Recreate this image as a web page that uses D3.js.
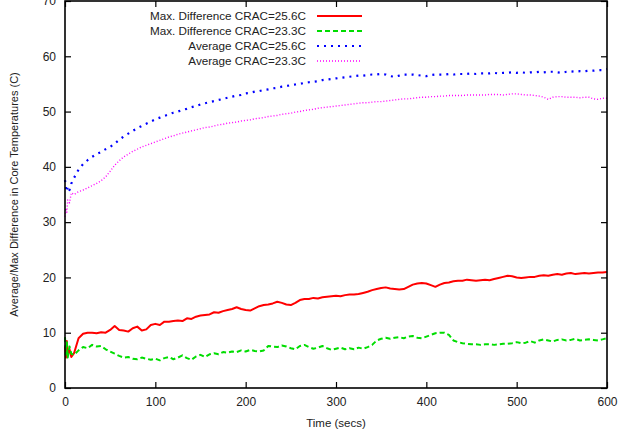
<!DOCTYPE html>
<html>
<head>
<meta charset="utf-8">
<script src="https://cdn.jsdelivr.net/npm/d3@7/dist/d3.min.js"></script>
<style>
  body { margin: 0; background: #fff; }
  svg text { font-family: "Liberation Sans", Arial, sans-serif; fill: #222; }
</style>
</head>
<body>
<div id="chart"></div>
<script>
// sample times (secs)
var times = [0, 1, 2, 3, 5, 7, 10, 15, 20, 25, 30, 35, 40, 45, 50, 55, 60, 65, 70, 75, 80, 85, 90, 95,
  100, 105, 110, 115, 120, 125, 130, 135, 140, 145, 150, 155, 160, 165, 170, 175, 180, 185, 190, 195,
  200, 205, 210, 215, 220, 225, 230, 235, 240, 245, 250, 255, 260, 265, 270, 275, 280, 285, 290, 295,
  300, 305, 310, 315, 320, 325, 330, 335, 340, 345, 350, 355, 360, 365, 370, 375, 380, 385, 390, 395,
  400, 405, 410, 415, 420, 425, 430, 435, 440, 445, 450, 455, 460, 465, 470, 475, 480, 485, 490, 495,
  500, 505, 510, 515, 520, 525, 530, 535, 540, 545, 550, 555, 560, 565, 570, 575, 580, 585, 590, 595, 600];

var maxDiff256 = [7.5, 5.5, 8.5, 6.0, 7.0, 5.6, 6.3, 9.0, 9.8, 10.0, 10.0, 9.9, 10.1, 10.0, 10.5, 11.2, 10.5, 10.4, 10.2, 10.8, 11.1, 10.4, 10.6, 11.4,
  11.6, 11.4, 12.0, 12.0, 12.1, 12.2, 12.1, 12.6, 12.5, 12.9, 13.1, 13.2, 13.3, 13.7, 13.6, 13.9, 14.1, 14.3, 14.6, 14.3,
  14.1, 14.0, 14.4, 14.8, 15.0, 15.1, 15.3, 15.6, 15.4, 15.1, 15.0, 15.4, 15.9, 16.1, 16.1, 16.3, 16.2, 16.4, 16.5, 16.6,
  16.7, 16.6, 16.8, 16.9, 16.9, 17.0, 17.2, 17.4, 17.7, 17.9, 18.1, 18.2, 18.0, 17.9, 17.8, 17.9, 18.3, 18.7, 18.9, 19.0,
  18.9, 18.6, 18.3, 18.7, 19.0, 19.1, 19.3, 19.4, 19.4, 19.6, 19.5, 19.4, 19.5, 19.6, 19.5, 19.7, 19.9, 20.1, 20.3, 20.2,
  20.0, 19.9, 20.0, 20.1, 20.1, 20.3, 20.4, 20.3, 20.5, 20.6, 20.5, 20.7, 20.8, 20.6, 20.7, 20.8, 20.7, 20.8, 20.9, 20.9, 21.0];

var maxDiff233 = [9.2, 6.0, 8.5, 5.5, 7.5, 6.2, 6.0, 6.8, 7.4, 7.2, 7.8, 7.5, 7.6, 7.0, 6.6, 6.2, 5.8, 5.5, 5.6, 5.3, 5.2, 5.5, 5.3, 5.1,
  5.3, 5.0, 5.4, 5.6, 5.2, 5.5, 5.9, 5.4, 5.1, 5.7, 6.0, 5.6, 6.1, 6.3, 6.1, 6.5, 6.4, 6.6, 6.5, 6.8,
  6.6, 6.9, 6.7, 6.6, 6.8, 7.6, 7.5, 7.4, 7.7, 7.5, 7.2, 7.0, 7.6, 7.8, 7.4, 7.1, 7.3, 7.6, 7.2, 6.9,
  7.1, 7.3, 7.0, 7.2, 7.0, 7.3, 7.1, 7.4, 7.8, 8.6, 8.9, 9.1, 8.9, 9.1, 9.2, 9.0, 9.3, 9.4, 9.1, 9.0,
  9.3, 9.6, 9.9, 10.0, 10.0, 9.6, 8.6, 8.3, 8.1, 8.0, 7.9, 7.9, 7.8, 7.9, 7.9, 7.8, 7.9, 8.0, 8.0, 8.1,
  8.3, 8.1, 8.2, 8.5, 8.2, 8.6, 8.8, 8.6, 8.4, 8.7, 8.8, 8.6, 8.7, 8.9, 8.6, 8.7, 8.8, 8.7, 8.6, 8.8, 9.0];

var avg256 = [37.6, 36.2, 35.5, 36.5, 35.8, 37.0, 38.0, 39.5, 40.5, 41.2, 41.8, 42.3, 42.7, 43.2, 43.6, 44.2, 44.9, 45.5, 46.0, 46.5, 47.0, 47.4, 47.8, 48.2,
  48.6, 48.9, 49.2, 49.5, 49.8, 50.0, 50.3, 50.5, 50.8, 51.0, 51.3, 51.5, 51.7, 51.9, 52.1, 52.3, 52.5, 52.7, 52.9, 53.0,
  53.3, 53.4, 53.6, 53.7, 53.9, 54.0, 54.2, 54.3, 54.5, 54.6, 54.8, 54.9, 55.0, 55.2, 55.3, 55.4, 55.5, 55.7, 55.8, 55.9,
  56.0, 56.1, 56.2, 56.3, 56.4, 56.5, 56.5, 56.6, 56.7, 56.7, 56.8, 56.7, 56.4, 56.3, 56.5, 56.7, 56.7, 56.7, 56.6, 56.5,
  56.4, 56.6, 56.7, 56.7, 56.7, 56.8, 56.7, 56.8, 56.8, 56.8, 56.9, 56.8, 56.9, 56.9, 56.9, 57.0, 56.9, 57.0, 57.0, 57.1,
  57.0, 57.1, 57.0, 57.1, 57.1, 57.2, 57.1, 57.2, 57.2, 57.1, 57.0, 57.2, 57.3, 57.2, 57.3, 57.3, 57.4, 57.4, 57.5, 57.5, 57.7];

var avg233 = [31.0, 32.5, 31.8, 34.0, 33.5, 35.3, 35.0, 35.5, 35.8, 36.2, 36.6, 37.0, 37.5, 38.2, 39.2, 40.3, 41.1, 41.8, 42.3, 42.8, 43.2, 43.6, 43.9, 44.2,
  44.5, 44.8, 45.1, 45.4, 45.6, 45.9, 46.1, 46.3, 46.5, 46.7, 46.9, 47.1, 47.2, 47.4, 47.6, 47.7, 47.9, 48.0, 48.1, 48.3,
  48.4, 48.5, 48.7, 48.8, 48.9, 49.1, 49.2, 49.3, 49.5, 49.6, 49.7, 49.9, 50.0, 50.2, 50.3, 50.4, 50.6, 50.7, 50.8, 50.9,
  51.0, 51.1, 51.2, 51.3, 51.4, 51.5, 51.6, 51.6, 51.7, 51.8, 51.8, 51.9, 52.0, 52.1, 52.2, 52.3, 52.3, 52.4, 52.5, 52.6,
  52.6, 52.7, 52.7, 52.8, 52.8, 52.9, 52.9, 52.9, 52.9, 53.0, 53.0, 53.0, 53.0, 53.0, 53.1, 53.1, 53.1, 53.0, 53.1, 53.2,
  53.2, 53.1, 53.0, 53.0, 52.9, 52.8, 52.6, 52.2, 52.6, 52.7, 52.7, 52.6, 52.6, 52.6, 52.5, 52.6, 52.6, 52.3, 52.2, 52.4, 52.4];

var seriesNames = ["Max. Difference CRAC=25.6C", "Max. Difference CRAC=23.3C", "Average CRAC=25.6C", "Average CRAC=23.3C"];
var xTicks = [0, 100, 200, 300, 400, 500, 600];
var yTicks = [0, 10, 20, 30, 40, 50, 60, 70];

var width = 626, height = 439;
var margin = {left: 65, right: 19, top: 1, bottom: 51};

var svg = d3.select("#chart").append("svg")
    .attr("width", width)
    .attr("height", height);

var x = d3.scaleLinear().domain([0, 600]).range([margin.left, width - margin.right]);
var y = d3.scaleLinear().domain([0, 70]).range([height - margin.bottom, margin.top]);

var styles = [
  {color: "#ff0000", width: 2, dash: null},
  {color: "#00dd00", width: 2, dash: "5,3"},
  {color: "#0000ff", width: 2.2, dash: "2,5"},
  {color: "#ff00ff", width: 1.4, dash: "1,2"}
];
var allSeries = [maxDiff256, maxDiff233, avg256, avg233];

// ticks (inward, mirrored like gnuplot)
var axisB = d3.axisBottom(x).tickValues(xTicks).tickSizeInner(-6).tickSizeOuter(0).tickPadding(9);
var axisT = d3.axisTop(x).tickValues(xTicks).tickSizeInner(-6).tickSizeOuter(0).tickFormat("");
var axisL = d3.axisLeft(y).tickValues(yTicks).tickSizeInner(-6).tickSizeOuter(0).tickPadding(9);
var axisR = d3.axisRight(y).tickValues(yTicks).tickSizeInner(-6).tickSizeOuter(0).tickFormat("");

function styleAxis(g) {
  g.select(".domain").remove();
  g.selectAll(".tick line").attr("stroke", "#000").attr("stroke-width", 1.2);
  g.selectAll(".tick text").style("font-size", "12px").attr("fill", "#222");
}

svg.append("g").attr("transform", "translate(0," + y(0) + ")").call(axisB).call(styleAxis);
svg.append("g").attr("transform", "translate(0," + y(70) + ")").call(axisT).call(styleAxis);
svg.append("g").attr("transform", "translate(" + x(0) + ",0)").call(axisL).call(styleAxis);
svg.append("g").attr("transform", "translate(" + x(600) + ",0)").call(axisR).call(styleAxis);

// data lines
var line = d3.line()
    .x(function (d) { return x(d[0]); })
    .y(function (d) { return y(d[1]); });

allSeries.forEach(function (vals, i) {
  var pts = times.map(function (t, j) { return [t, vals[j]]; });
  svg.append("path")
      .datum(pts)
      .attr("fill", "none")
      .attr("stroke", styles[i].color)
      .attr("stroke-width", styles[i].width)
      .attr("stroke-dasharray", styles[i].dash)
      .attr("stroke-linejoin", "round")
      .attr("d", line);
});

// border
svg.append("rect")
    .attr("x", x(0)).attr("y", y(70))
    .attr("width", x(600) - x(0)).attr("height", y(0) - y(70))
    .attr("fill", "none").attr("stroke", "#000").attr("stroke-width", 1.6);

// legend
var legend = svg.append("g");
seriesNames.forEach(function (name, i) {
  var ly = 16 + i * 15;
  legend.append("text")
      .attr("x", 306).attr("y", ly)
      .attr("dy", "0.35em")
      .attr("text-anchor", "end")
      .style("font-size", "11.7px")
      .text(name);
  legend.append("line")
      .attr("x1", 317).attr("x2", 362)
      .attr("y1", ly).attr("y2", ly)
      .attr("stroke", styles[i].color)
      .attr("stroke-width", styles[i].width)
      .attr("stroke-dasharray", styles[i].dash);
});

// axis titles
svg.append("text")
    .attr("x", (x(0) + x(600)) / 2).attr("y", 427)
    .attr("text-anchor", "middle")
    .style("font-size", "11.5px")
    .text("Time (secs)");

svg.append("text")
    .attr("transform", "translate(18," + (y(0) + y(70)) / 2 + ") rotate(-90)")
    .attr("text-anchor", "middle")
    .style("font-size", "11px")
    .text("Average/Max Difference in Core Temperatures (C)");
</script>
</body>
</html>
